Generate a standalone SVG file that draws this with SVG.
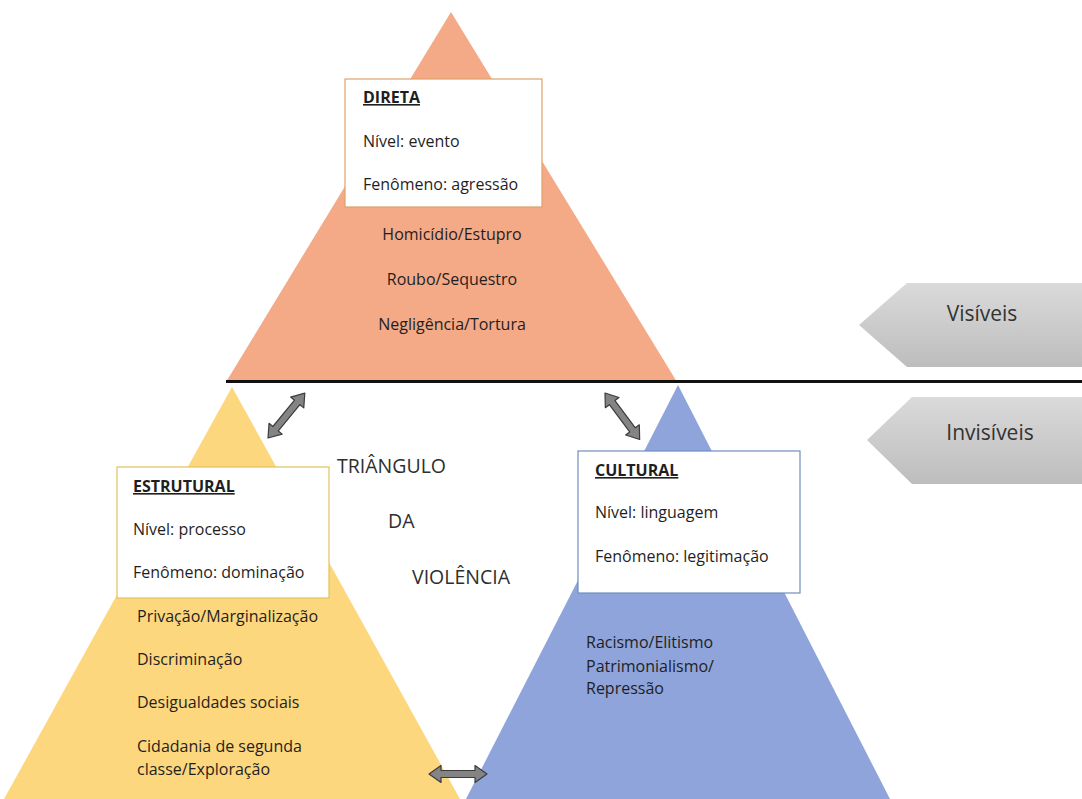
<svg xmlns="http://www.w3.org/2000/svg" width="1082" height="799" viewBox="0 0 1082 799">
<defs>
<style>
.t{font-family:"Open Sans","Liberation Sans",sans-serif;font-size:16px;fill:#1f1f1f}
.h{font-weight:bold;text-decoration:underline}
.big{font-family:"Open Sans","Liberation Sans",sans-serif;font-size:19.5px;fill:#2e2e2e}
.lab{font-family:"Open Sans","Liberation Sans",sans-serif;font-size:21px;fill:#333;text-anchor:middle}
.box{fill:#fff;stroke-width:1.2}
.dbl{fill:#848484;stroke:#3c3c3c;stroke-width:1.2;stroke-linejoin:round}
</style>
<linearGradient id="g" x1="0" y1="0" x2="0" y2="1">
<stop offset="0" stop-color="#dadada"/>
<stop offset="1" stop-color="#bdbdbd"/>
</linearGradient>
<path id="da" d="M0,0 L12,-8.5 L12,-3.5 L46,-3.5 L46,-8.5 L58,0 L46,8.5 L46,3.5 L12,3.5 L12,8.5 Z"/>
</defs>
<rect width="1082" height="799" fill="#fff"/>

<g id="estrutural">
<polygon points="232,387 4,799 460,799" fill="#fdd77d"/>
<rect class="box" x="117" y="467" width="212" height="131" stroke="#e3c15e"/>
<text class="t h" x="133" y="492">ESTRUTURAL</text>
<text class="t" x="133" y="535">Nível: processo</text>
<text class="t" x="133" y="578">Fenômeno: dominação</text>
<text class="t" x="137" y="622">Privação/Marginalização</text>
<text class="t" x="137" y="665">Discriminação</text>
<text class="t" x="137" y="708">Desigualdades sociais</text>
<text class="t" x="137" y="752">Cidadania de segunda</text>
<text class="t" x="137" y="775">classe/Exploração</text>
</g>

<g id="cultural">
<polygon points="678,385 466,799 890,799" fill="#8ea4da"/>
<rect class="box" x="578" y="451" width="222" height="142" stroke="#6f8ec0"/>
<text class="t h" x="595" y="476">CULTURAL</text>
<text class="t" x="595" y="518">Nível: linguagem</text>
<text class="t" x="595" y="562">Fenômeno: legitimação</text>
<text class="t" x="586" y="648">Racismo/Elitismo</text>
<text class="t" x="586" y="672">Patrimonialismo/</text>
<text class="t" x="586" y="694">Repressão</text>
</g>

<g id="direta">
<polygon points="451,12 226,382 677,382" fill="#f4a987"/>
<rect class="box" x="345" y="79" width="197" height="128" stroke="#e0a26a"/>
<text class="t h" x="363" y="103">DIRETA</text>
<text class="t" x="363" y="147">Nível: evento</text>
<text class="t" x="363" y="190">Fenômeno: agressão</text>
<text class="t" x="452" y="240" text-anchor="middle">Homicídio/Estupro</text>
<text class="t" x="452" y="285" text-anchor="middle">Roubo/Sequestro</text>
<text class="t" x="452" y="330" text-anchor="middle">Negligência/Tortura</text>
</g>

<g id="divisor">
<line x1="226" y1="381.5" x2="1082" y2="381.5" stroke="#111" stroke-width="3"/>
</g>

<g id="titulo">
<text class="big" x="337" y="473">TRIÂNGULO</text>
<text class="big" x="388" y="528">DA</text>
<text class="big" x="412" y="584">VIOLÊNCIA</text>
</g>

<g id="visiveis">
<polygon points="859,325 907,283 1082,283 1082,367 907,367" fill="url(#g)"/>
<text class="lab" x="982" y="321">Visíveis</text>
</g>

<g id="invisiveis">
<polygon points="867,440 912,397 1082,397 1082,484 912,484" fill="url(#g)"/>
<text class="lab" x="990" y="440">Invisíveis</text>
</g>

<g id="connectors">
<use href="#da" class="dbl" transform="translate(268,438) rotate(-50.6)"/>
<use href="#da" class="dbl" transform="translate(605,393) rotate(53.3)"/>
<use href="#da" class="dbl" transform="translate(429,774)"/>
</g>
</svg>
